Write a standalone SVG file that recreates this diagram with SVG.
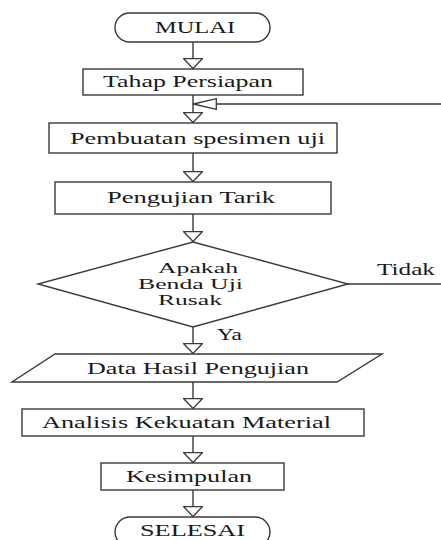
<svg xmlns="http://www.w3.org/2000/svg" width="441" height="540" viewBox="0 0 441 540">
<style>
.s{fill:#fff;stroke:#3a3a3a;stroke-width:1.4}
.c{fill:none;stroke:#3a3a3a;stroke-width:1.4}
text{font-family:"Liberation Serif","Times New Roman",serif;font-size:17px;fill:#1a1a1a}
.d{font-size:15px}
</style>
<defs>
<marker id="ah" viewBox="0 0 11 20" refX="11" refY="10" markerWidth="11" markerHeight="20" markerUnits="userSpaceOnUse" orient="auto">
<path d="M0.7,0.7 L10.5,10 L0.7,19.3 Z" fill="#fff" stroke="#3a3a3a" stroke-width="1.3"/>
</marker>
<marker id="ahL" viewBox="0 0 24 12" refX="24" refY="6" markerWidth="24" markerHeight="12" markerUnits="userSpaceOnUse" orient="auto">
<path d="M0.7,0.7 L23.5,6 L0.7,11.3 Z" fill="#fff" stroke="#3a3a3a" stroke-width="1.3"/>
</marker>
</defs>
<rect width="441" height="540" fill="#fff"/>
<g id="connectors">
<path class="c" d="M193,42 V69" marker-end="url(#ah)"/>
<path class="c" d="M193,95 V123" marker-end="url(#ah)"/>
<path class="c" d="M441,104 H193" marker-end="url(#ahL)"/>
<path class="c" d="M193,153 V182" marker-end="url(#ah)"/>
<path class="c" d="M193,214 V242" marker-end="url(#ah)"/>
<path class="c" d="M348,284 H441"/>
<path class="c" d="M193,327 V354" marker-end="url(#ah)"/>
<path class="c" d="M193,382 V409" marker-end="url(#ah)"/>
<path class="c" d="M193,436 V463" marker-end="url(#ah)"/>
<path class="c" d="M193,490 V517" marker-end="url(#ah)"/>
<text transform="translate(377,275) scale(1.45,1)" textLength="40" lengthAdjust="spacingAndGlyphs">Tidak</text>
<text transform="translate(217,340) scale(1.45,1)" textLength="17.2" lengthAdjust="spacingAndGlyphs">Ya</text>
</g>
<g id="mulai">
<rect class="s" x="115" y="13" width="155" height="29" rx="14.5"/>
<text transform="translate(155,33) scale(1.45,1)" textLength="55.2" lengthAdjust="spacingAndGlyphs">MULAI</text>
</g>
<g id="tahap">
<rect class="s" x="83" y="69" width="220" height="26"/>
<text transform="translate(103,87) scale(1.45,1)" textLength="117.2" lengthAdjust="spacingAndGlyphs">Tahap Persiapan</text>
</g>
<g id="pembuatan">
<rect class="s" x="49" y="123" width="288" height="30"/>
<text transform="translate(70,144) scale(1.45,1)" textLength="175.9" lengthAdjust="spacingAndGlyphs">Pembuatan spesimen uji</text>
</g>
<g id="pengujian">
<rect class="s" x="55" y="182" width="276" height="32"/>
<text transform="translate(107,203) scale(1.45,1)" textLength="115.9" lengthAdjust="spacingAndGlyphs">Pengujian Tarik</text>
</g>
<g id="keputusan">
<polygon class="s" points="193,242 348,284 193,327 38,284"/>
<text class="d" transform="translate(158,273) scale(1.45,1)" textLength="55.2" lengthAdjust="spacingAndGlyphs">Apakah</text>
<text class="d" transform="translate(138,289) scale(1.45,1)" textLength="72.4" lengthAdjust="spacingAndGlyphs">Benda Uji</text>
<text class="d" transform="translate(158,305) scale(1.45,1)" textLength="44.1" lengthAdjust="spacingAndGlyphs">Rusak</text>
</g>
<g id="data">
<polygon class="s" points="55,354 382,354 337,382 12,382"/>
<text transform="translate(87,374) scale(1.45,1)" textLength="153.1" lengthAdjust="spacingAndGlyphs">Data Hasil Pengujian</text>
</g>
<g id="analisis">
<rect class="s" x="22" y="409" width="342" height="27"/>
<text transform="translate(42,428) scale(1.45,1)" textLength="199.3" lengthAdjust="spacingAndGlyphs">Analisis Kekuatan Material</text>
</g>
<g id="kesimpulan">
<rect class="s" x="101" y="463" width="183" height="27"/>
<text transform="translate(126,482) scale(1.45,1)" textLength="86.9" lengthAdjust="spacingAndGlyphs">Kesimpulan</text>
</g>
<g id="selesai">
<rect class="s" x="115" y="517" width="155" height="30" rx="15"/>
<text transform="translate(140,536) scale(1.45,1)" textLength="72.4" lengthAdjust="spacingAndGlyphs">SELESAI</text>
</g>
</svg>
